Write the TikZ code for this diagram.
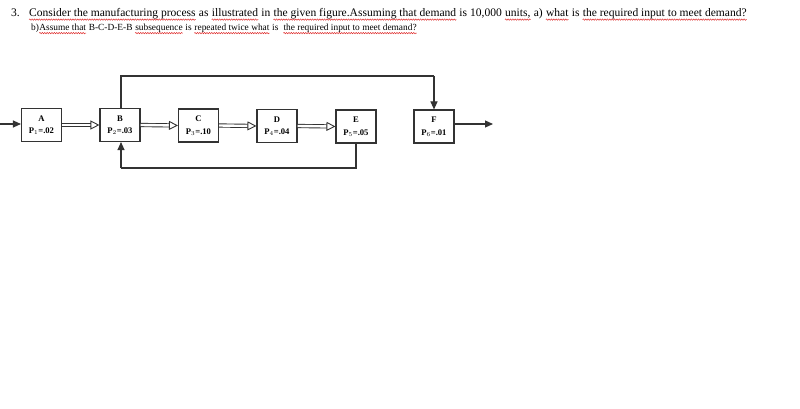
\documentclass[tikz,border=0pt]{standalone}
\usepackage{fontspec}
\setmainfont{Liberation Serif}
\usetikzlibrary{arrows.meta,decorations.pathmorphing}
\definecolor{ink}{HTML}{333333}
\definecolor{spell}{HTML}{E03030}
\tikzset{
  stage/.style={draw=ink, line width=1.1pt, minimum width=40pt, minimum height=33pt, inner sep=0pt,
    align=center, font=\bfseries\fontsize{8.6}{12.5}\selectfont, text=black},
  flow/.style={draw=ink, line width=1.1pt, -{Triangle[length=8pt,width=7pt]}},
  feed/.style={draw=ink, line width=1.1pt},
  dbl/.style={draw=ink, double=white, double distance=2.4pt, line width=0.9pt, -{Triangle[open,length=9pt,width=9pt]}},
  txt/.style={anchor=base west, inner sep=0pt, text=black},
  big/.style={txt, font=\fontsize{11.55}{13}\selectfont},
  small/.style={txt, font=\fontsize{9.38}{11}\selectfont},
  wavy/.style={draw=spell, line width=0.5pt, decorate, decoration={snake, amplitude=0.7pt, segment length=2.4pt}}
}
\newcommand\wl[1]{\draw[wavy] ([yshift=-2.6pt]#1.base west) -- ([yshift=-2.6pt]#1.base east);}
\begin{document}
\begin{tikzpicture}[x=1pt,y=-1pt]
\useasboundingbox[fill=white] (0,0) rectangle (800,409);
% line 1
\node[big] (num) at (11,17) {3.};
\node[big] (a1) at (29,17) {Consider the manufacturing process};
\node[big] (a2) at ([xshift=2.9pt]a1.base east) {as};
\node[big] (a3) at ([xshift=2.9pt]a2.base east) {illustrated};
\node[big] (a4) at ([xshift=2.9pt]a3.base east) {in};
\node[big] (a5) at ([xshift=2.9pt]a4.base east) {the given figure.Assuming that demand};
\node[big] (a6) at ([xshift=2.9pt]a5.base east) {is 10,000};
\node[big] (a7) at ([xshift=2.9pt]a6.base east) {units,};
\node[big] (a8) at ([xshift=2.9pt]a7.base east) {a)};
\node[big] (a9) at ([xshift=2.9pt]a8.base east) {what};
\node[big] (a10) at ([xshift=2.9pt]a9.base east) {is};
\node[big] (a11) at ([xshift=2.9pt]a10.base east) {the required input to meet demand?};
\wl{a1}\wl{a3}\wl{a5}\wl{a7}\wl{a9}\wl{a11}
% line 2
\node[small] (b1) at (31,30.5) {b)};
\node[small] (b2) at (b1.base east) {Assume that};
\node[small] (b3) at ([xshift=2.35pt]b2.base east) {B-C-D-E-B};
\node[small] (b4) at ([xshift=2.35pt]b3.base east) {subsequence};
\node[small] (b5) at ([xshift=2.35pt]b4.base east) {is};
\node[small] (b6) at ([xshift=2.35pt]b5.base east) {repeated twice what};
\node[small] (b7) at ([xshift=2.35pt]b6.base east) {is};
\node[small] (b8) at ([xshift=4.7pt]b7.base east) {the required input to meet demand?};
\wl{b2}\wl{b4}\wl{b6}\wl{b8}

\node[stage] (A) at (41.5,125) {A\\P$_1$=.02};
\node[stage] (B) at (120,125) {B\\P$_2$=.03};
\node[stage] (C) at (198.5,125.5) {C\\P$_3$=.10};
\node[stage] (D) at (277,126) {D\\P$_4$=.04};
\node[stage] (E) at (356,126.5) {E\\P$_5$=.05};
\node[stage] (F) at (434,126.5) {F\\P$_6$=.01};

\coordinate (in) at (0,124);
\coordinate (out) at (493,124);
\coordinate (t1) at (121,76);
\coordinate (t2) at (434,76);
\coordinate (e1) at (356,168);
\coordinate (e2) at (121,168);

\draw[flow] (in) -- (A.west |- in);
\draw[flow] (F.east |- out) -- (out);
\draw[dbl] (A.east) -- (B.west);
\draw[dbl] (B.east) -- (C.west);
\draw[dbl] (C.east) -- (D.west);
\draw[dbl] (D.east) -- (E.west);
\draw[feed] (B.north -| t1) -- (t1) -- (t2);
\draw[flow] (t2) -- (F.north);
\draw[feed] (E.south) -- (e1) -- (e2);
\draw[flow] (e2) -- (B.south -| e2);
\end{tikzpicture}
\end{document}
